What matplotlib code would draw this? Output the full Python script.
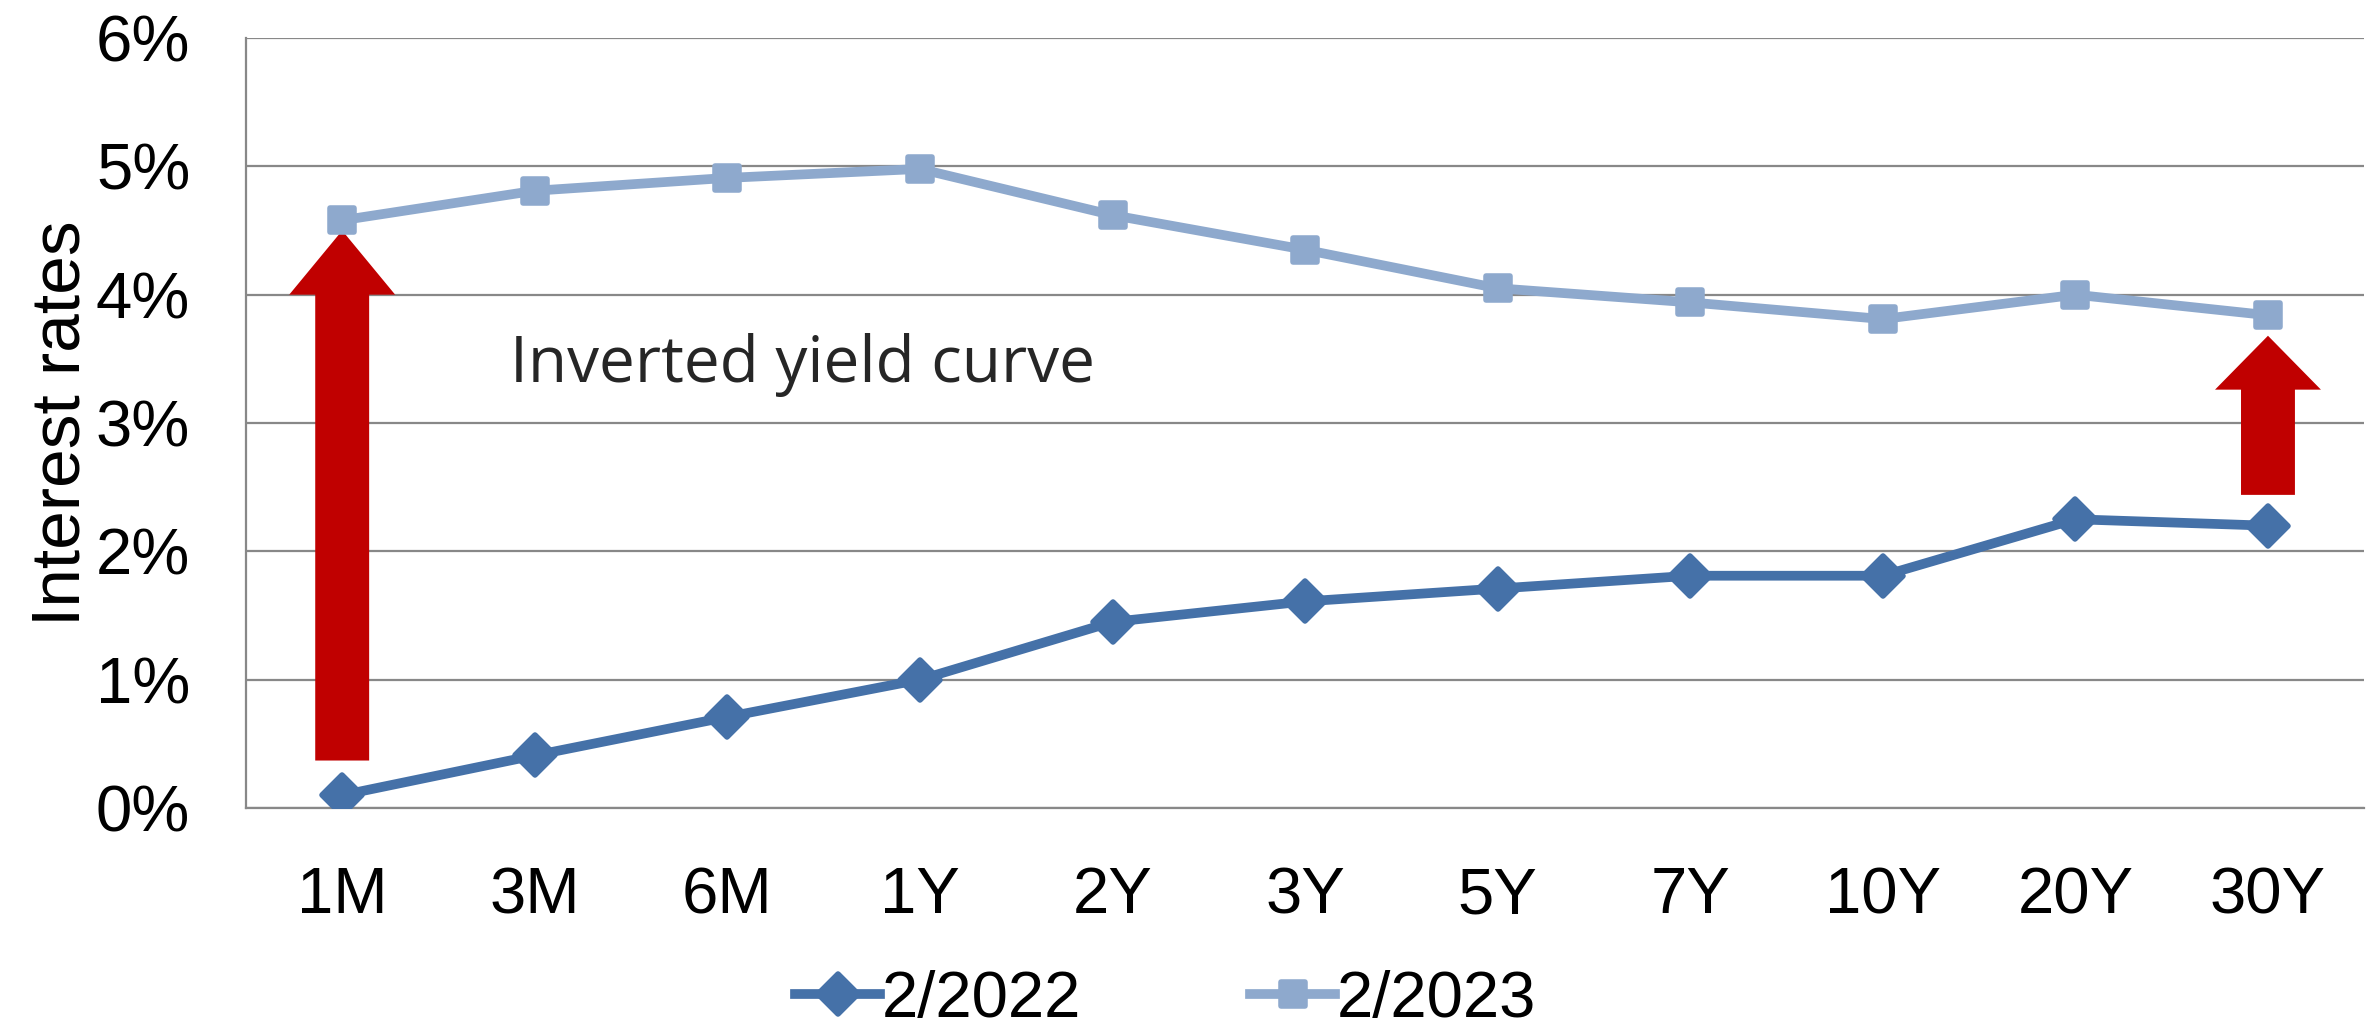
import matplotlib.pyplot as plt
from matplotlib.markers import MarkerStyle
from matplotlib.patches import FancyArrow
from matplotlib.ticker import FuncFormatter

tenors = ["1M", "3M", "6M", "1Y", "2Y", "3Y", "5Y", "7Y", "10Y", "20Y", "30Y"]
rates_2022 = [0.10, 0.41, 0.71, 1.00, 1.45, 1.61, 1.71, 1.81, 1.81, 2.25, 2.20]
rates_2023 = [4.58, 4.81, 4.91, 4.98, 4.62, 4.35, 4.05, 3.94, 3.81, 4.00, 3.84]

DARK = "#4571a8"
LIGHT = "#8ea9cd"
RED = "#c00000"
GRID = "#888888"

fig = plt.figure(figsize=(23.69, 10.33), dpi=100)
ax = fig.add_axes([0.1038, 0.2178, 0.8942, 0.7454])

x = list(range(len(tenors)))
ax.plot(x, rates_2022, color=DARK, lw=7, marker=MarkerStyle("D", joinstyle="round"),
        ms=20, mec=DARK, mew=4, solid_joinstyle="round", label="2/2022", zorder=4)
ax.plot(x, rates_2023, color=LIGHT, lw=7, marker=MarkerStyle("s", joinstyle="round"),
        ms=17, mec=LIGHT, mew=4, solid_joinstyle="round", label="2/2023", zorder=4)

# red arrows showing the jump between the two curves
for i, gap_lo, gap_hi, head_len in [(0, 0.27, 0.08, 0.5), (len(tenors) - 1, 0.24, 0.16, 0.42)]:
    y0 = rates_2022[i] + gap_lo
    y1 = rates_2023[i] - gap_hi
    ax.add_patch(FancyArrow(i, y0, 0, y1 - y0, width=0.28, head_width=0.55,
                            head_length=head_len, length_includes_head=True,
                            color=RED, lw=0, zorder=3))

ax.text(0.87, 3.45, "Inverted yield curve", fontsize=46, family="Open Sans",
        color="#262626", va="center", ha="left")

ax.set_xlim(-0.5, len(tenors) - 0.5)
ax.set_ylim(0, 6)
ax.set_yticks(range(0, 7))
ax.yaxis.set_major_formatter(FuncFormatter(lambda v, _: f"{v:.0f}%"))
ax.set_xticks(x)
ax.set_xticklabels(tenors)
ax.tick_params(axis="both", length=0, labelsize=47)
ax.tick_params(axis="y", pad=40)
ax.tick_params(axis="x", pad=42)
for lab in ax.get_xticklabels() + ax.get_yticklabels():
    lab.set_family("Liberation Sans")

ax.grid(axis="y", color=GRID, lw=1.6)
ax.set_axisbelow(True)
for side in ["top", "right"]:
    ax.spines[side].set_visible(False)
for side in ["left", "bottom"]:
    ax.spines[side].set_color(GRID)
    ax.spines[side].set_linewidth(1.6)

ax.set_ylabel("Interest rates", fontsize=50, family="Liberation Sans", labelpad=2)

fig.legend(loc="center", bbox_to_anchor=(0.492, 0.032), ncol=2, frameon=False,
           prop={"family": "Liberation Sans", "size": 47}, handlelength=1.3,
           handletextpad=0.02, columnspacing=2.6, borderpad=0)

fig.savefig("out.png", dpi=100, facecolor="white")
